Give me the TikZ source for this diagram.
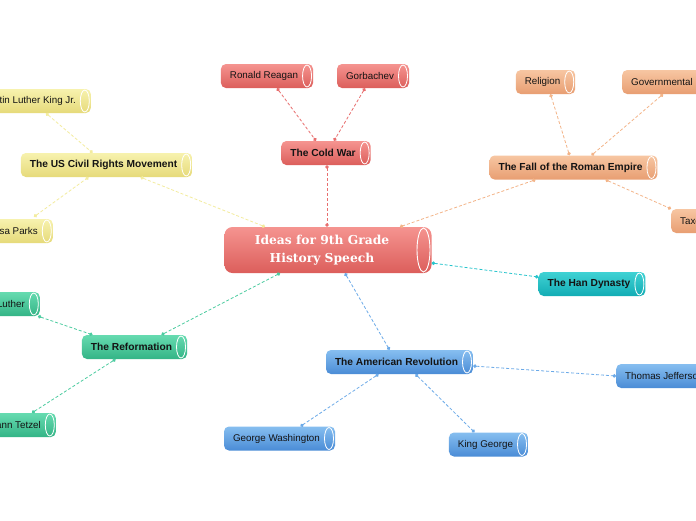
\documentclass[tikz,border=0pt]{standalone}
\usepackage{fontspec}
\setmainfont{Liberation Sans}
\newfontfamily\slabfont{DejaVu Serif}
\usetikzlibrary{arrows.meta}
\definecolor{redT}{HTML}{F59490}
\definecolor{redB}{HTML}{DC5E5B}
\definecolor{redL}{HTML}{E86E6E}
\definecolor{yelT}{HTML}{F7F2AE}
\definecolor{yelB}{HTML}{E6DA7A}
\definecolor{yelL}{HTML}{F3EC9E}
\definecolor{orT}{HTML}{F7C6A2}
\definecolor{orB}{HTML}{E89E72}
\definecolor{orL}{HTML}{F3B488}
\definecolor{cyT}{HTML}{40D2D4}
\definecolor{cyB}{HTML}{12ACB4}
\definecolor{cyL}{HTML}{26C4CC}
\definecolor{blT}{HTML}{86BEF0}
\definecolor{blB}{HTML}{4A8CD6}
\definecolor{blL}{HTML}{6CAAE8}
\definecolor{grT}{HTML}{66DBB0}
\definecolor{grB}{HTML}{34B486}
\definecolor{grL}{HTML}{4CCCA0}
\tikzset{
  cyl/.style={rectangle, rounded corners=5pt, minimum height=24pt, inner xsep=9pt, inner ysep=0pt,
    font=\fontsize{9.8}{11}\selectfont, text=black!92,
    path picture={\draw[white,line width=0.8pt] ([xshift=-6pt]path picture bounding box.east) ellipse[x radius=4.5pt,y radius=11pt];}},
  topic/.style={cyl, font=\bfseries\fontsize{10.2}{12}\selectfont},
  redn/.style={top color=redT, bottom color=redB},
  yeln/.style={top color=yelT, bottom color=yelB},
  orn/.style={top color=orT, bottom color=orB},
  cyn/.style={top color=cyT, bottom color=cyB},
  bln/.style={top color=blT, bottom color=blB},
  grn/.style={top color=grT, bottom color=grB},
  conn/.style={dash pattern=on 3pt off 2pt, line width=0.8pt, {Circle[length=3.5pt]}-{Circle[length=3.5pt]}},
}
\newcommand{\tx}[1]{#1\kern6pt}
\begin{document}
\begin{tikzpicture}[x=1pt,y=-1pt]
\useasboundingbox (0,0) rectangle (696,520);
\fill[white] (0,0) rectangle (696,520);
\clip (0,0) rectangle (696,520);

% central
\node[rectangle, rounded corners=8pt, minimum width=207pt, minimum height=46pt, top color=redT, bottom color=redB,
  align=center, text=white, font=\slabfont\bfseries\fontsize{12.3}{18.5}\selectfont,
  path picture={\draw[white,line width=0.9pt] ([xshift=-8pt]path picture bounding box.east) ellipse[x radius=6.5pt,y radius=22pt];}]
  (cen) at (328,250) {Ideas for 9th Grade\kern12pt\\History Speech\kern12pt};

% Cold war
\node[topic, redn, minimum width=89pt] (cw) at (326,153) {\tx{The Cold War}};
\node[cyl, redn, minimum width=91pt] (rr) at (267,76) {\tx{Ronald Reagan}};
\node[cyl, redn, minimum width=72pt] (gb) at (373,76) {\tx{Gorbachev}};

% Roman empire
\node[topic, orn, minimum width=167pt] (rom) at (573.5,167.5) {\tx{The Fall of the Roman Empire}};
\node[cyl, orn, minimum width=59pt] (rel) at (545.5,82) {\tx{Religion}};
\node[cyl, orn, anchor=west] (gov) at (622,82) {\tx{Governmental}};
\node[cyl, orn, anchor=west] (tax) at (671,221) {\tx{Taxes}};

% Han
\node[topic, cyn, minimum width=106pt] (han) at (592,284) {\tx{The Han Dynasty}};

% American revolution
\node[topic, bln, minimum width=143pt] (ar) at (399.5,362) {\tx{The American Revolution}};
\node[cyl, bln, anchor=west] (jef) at (616,376) {\tx{Thomas Jefferson}};
\node[cyl, bln, minimum width=111pt] (gw) at (279.5,438.5) {\tx{George Washington}};
\node[cyl, bln, minimum width=77pt] (kg) at (488.5,444.5) {\tx{King George}};

% Reformation
\node[topic, grn, minimum width=105pt] (ref) at (134.5,347) {\tx{The Reformation}};
\node[cyl, grn, anchor=east] (luth) at (40,304) {\tx{Martin Luther}};
\node[cyl, grn, anchor=east] (tet) at (56,425) {\tx{Johann Tetzel}};

% Civil rights
\node[topic, yeln, minimum width=171pt] (civ) at (106.5,165) {\tx{The US Civil Rights Movement}};
\node[cyl, yeln, anchor=east] (mlk) at (91,101) {\tx{Martin Luther King Jr.}};
\node[cyl, yeln, anchor=east] (rosa) at (53,231) {\tx{Rosa Parks}};

% connectors
\draw[conn, yelL] ([xshift=34pt]civ.south) -- ([xshift=-63pt]cen.north);
\draw[conn, yelL] ([xshift=-45pt]mlk.south east) -- ([xshift=-14pt]civ.north);
\draw[conn, yelL] ([xshift=-19pt,yshift=2pt]rosa.north east) -- ([xshift=-18pt]civ.south);

\draw[conn, redL] ([xshift=1pt]cw.south) -- ([xshift=-1pt]cen.north);
\draw[conn, redL] ([xshift=10pt]rr.south) -- ([xshift=-10pt]cw.north);
\draw[conn, redL] ([xshift=-8pt]gb.south) -- ([xshift=8pt]cw.north);

\draw[conn, orL] ([xshift=-38pt]rom.south) -- ([xshift=72pt]cen.north);
\draw[conn, orL] ([xshift=5pt]rel.south) -- ([xshift=-4pt]rom.north);
\draw[conn, orL] ([xshift=41pt]gov.south west) -- ([xshift=18pt]rom.north);
\draw[conn, orL] ([xshift=32pt]rom.south) -- (tax.north west);

\draw[conn, cyL] ([yshift=-13pt]cen.east) -- ([yshift=7pt]han.west);

\draw[conn, blL] ([xshift=17pt]cen.south) -- ([xshift=-10pt]ar.north);
\draw[conn, blL] ([yshift=-4pt]ar.east) -- (jef.west);
\draw[conn, blL] ([xshift=-21pt]ar.south) -- ([xshift=21pt]gw.north);
\draw[conn, blL] ([xshift=16pt]ar.south) -- ([xshift=-14pt]kg.north);

\draw[conn, grL] ([xshift=27pt]ref.north) -- ([xshift=-48pt]cen.south);
\draw[conn, grL] ([xshift=-2pt]luth.south east) -- ([xshift=-42pt]ref.north);
\draw[conn, grL] ([xshift=-24pt]tet.north east) -- ([xshift=-19pt]ref.south);
\end{tikzpicture}
\end{document}
